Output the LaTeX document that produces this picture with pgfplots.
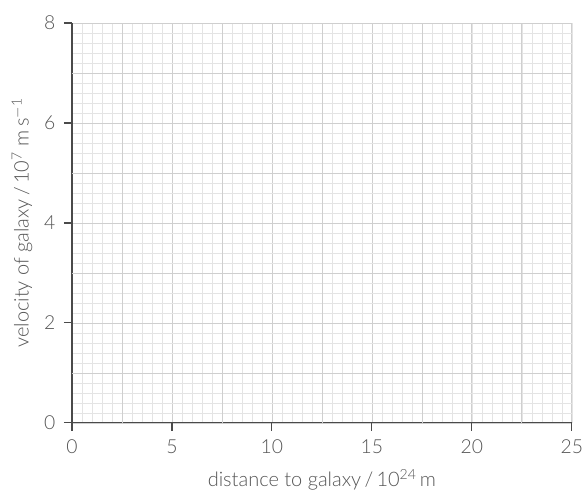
\documentclass[border=0pt]{standalone}
\usepackage{pgfplots}
\pgfplotsset{compat=1.18}
\usepackage{fontspec}
\setmainfont{Lato Light}
\definecolor{axisgray}{HTML}{4A4A4A}
\definecolor{textgray}{HTML}{555555}
\definecolor{gridmajor}{HTML}{CFCFCF}
\definecolor{gridminor}{HTML}{E4E4E4}
\begin{document}
\begin{tikzpicture}
  \begin{axis}[
      scale only axis,
      width=375pt, height=300pt,
      at={(0,0)}, anchor=south west,
      xmin=0, xmax=25, ymin=0, ymax=8,
      axis x line*=bottom,
      axis y line*=left,
      axis line style={axisgray, line width=0.9pt},
      tick align=outside,
      tick style={axisgray, line width=0.9pt},
      major tick length=6pt,
      minor tick length=0pt,
      xtick={0,5,...,25},
      ytick={0,2,...,8},
      minor xtick={0,0.5,...,25},
      minor ytick={0,0.2,...,8},
      extra x ticks={2.5,7.5,12.5,17.5,22.5},
      extra y ticks={1,3,5,7},
      extra tick style={major tick length=0pt, tick style={draw=none}, xticklabels={}, yticklabels={}},
      grid=both,
      major grid style={gridmajor, line width=0.5pt},
      minor grid style={gridminor, line width=0.4pt},
      /pgf/number format/assume math mode=true,
      ticklabel style={font=\fontsize{14.5}{17}\selectfont, text=textgray},
      xticklabel style={yshift=-3pt, inner xsep=0pt},
      yticklabel style={xshift=-3pt},
      label style={font=\fontsize{15}{17}\selectfont, text=textgray},
      xlabel={distance to galaxy\,/\,10\textsuperscript{24}\,m},
      ylabel={velocity of galaxy\,/\,10\textsuperscript{7}\;m\,s\textsuperscript{$-$1}},
      xlabel style={at={(axis description cs:0.5,-0.143)}, anchor=center},
      ylabel style={at={(axis description cs:-0.1,0.5)}, anchor=center},
    ]
    \addplot[draw=none, forget plot] coordinates {(0,0) (25,8)};
  \end{axis}
  \path (-54pt,-55.5pt) rectangle (383.25pt,317.25pt);
\end{tikzpicture}
\end{document}
